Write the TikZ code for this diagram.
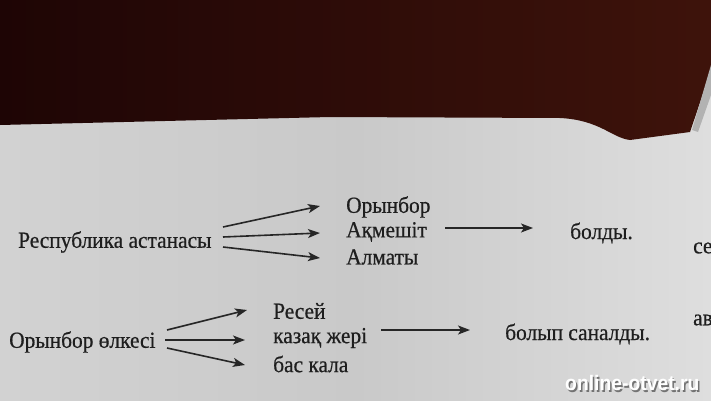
\documentclass[tikz,border=0pt]{standalone}
\usepackage{fontspec}
\setmainfont{Liberation Serif}[FakeStretch=0.93,FakeBold=0.6]
\newfontfamily\wmfont{Liberation Sans}[FakeStretch=0.92]
\usetikzlibrary{arrows.meta}
\definecolor{inkc}{HTML}{1E1E1E}
\definecolor{arrc}{HTML}{262626}
\definecolor{paperl}{HTML}{D2D2D2}
\definecolor{paperm}{HTML}{C9C9C9}
\definecolor{paperr}{HTML}{DEDEDE}
\definecolor{woodl}{HTML}{1E0505}
\definecolor{woodr}{HTML}{3E130B}
\tikzset{
  x=1pt,y=1pt,
  lbl/.style={inner sep=0pt,anchor=west,text=inkc,font=\fontsize{23}{26}\selectfont},
  arr/.style={draw=arrc,line width=1.6pt,-{Stealth[length=12pt,width=9pt,inset=3pt]}},
}
\begin{document}
\begin{tikzpicture}
\useasboundingbox (0,0) rectangle (711,400);
% page
\shade[left color=paperl,right color=paperr,middle color=paperm] (0,0) rectangle (711,400);
% dark background above page edge
\shade[left color=woodl,right color=woodr]
  (0,400) -- (711,400) -- (711,330) -- (690,268) -- (630,260)
  .. controls (612,262) and (600,280) .. (560,282) -- (330,283) -- (0,275) -- cycle;
\fill[gray!60] (711,335) -- (692,270) -- (698,268) -- (711,305) -- cycle;
% top diagram
\node[lbl] (rep) at (18,158) {Республика астанасы};
\node[lbl] (o1) at (346,193) {Орынбор};
\node[lbl] (o2) at (346,168) {Ақмешіт};
\node[lbl] (o3) at (346,143) {Алматы};
\node[lbl] (bol) at (570,167) {болды.};
\draw[arr] ([shift={(205,15)}]rep.west) -- ([shift={(-26,1)}]o1.west);
\draw[arr] ([shift={(205,5)}]rep.west) -- ([shift={(-26,-1)}]o2.west);
\draw[arr] ([shift={(205,-5)}]rep.west) -- ([shift={(-26,-1)}]o3.west);
\draw[arr] ([shift={(99,4)}]o2.west) -- ([shift={(-37,5)}]bol.west);
% bottom diagram
\node[lbl] (ork) at (9,58) {Орынбор өлкесі};
\node[lbl] (r1) at (273,89) {Ресей};
\node[lbl] (r2) at (273,62) {казақ жері};
\node[lbl] (r3) at (273,36) {бас кала};
\node[lbl] (san) at (505,66) {болып саналды.};
\draw[arr] ([shift={(158,12)}]ork.west) -- ([shift={(-26,1)}]r1.west);
\draw[arr] ([shift={(156,2)}]ork.west) -- ([shift={(-28,-2)}]r2.west);
\draw[arr] ([shift={(158,-6)}]ork.west) -- ([shift={(-28,-1)}]r3.west);
\draw[arr] ([shift={(108,8)}]r2.west) -- ([shift={(-35,4)}]san.west);
% cut-off words at the right edge
\node[lbl] (sek) at (693,152) {сек};
\node[lbl] (av) at (693,80) {ав};
% watermark
\node[inner sep=0pt,anchor=west,text=black!55,font=\wmfont\bfseries\fontsize{21}{23}\selectfont] at (566.5,15.5) {online-otvet.ru};
\node[inner sep=0pt,anchor=west,text=white,font=\wmfont\bfseries\fontsize{21}{23}\selectfont] (wm) at (565,17) {online-otvet.ru};
\end{tikzpicture}
\end{document}
